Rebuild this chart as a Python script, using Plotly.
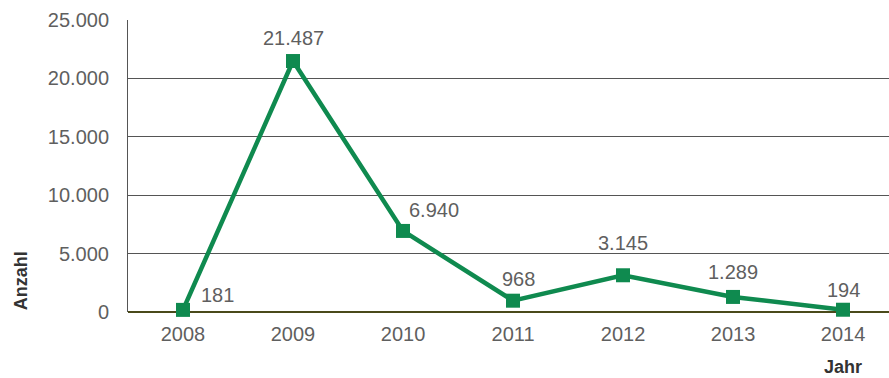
import plotly.graph_objects as go

years = ["2008", "2009", "2010", "2011", "2012", "2013", "2014"]
values = [181, 21487, 6940, 968, 3145, 1289, 194]
labels = ["181", "21.487", "6.940", "968", "3.145", "1.289", "194"]
label_dx = [34, 0, 31, 5, 0, 0, 0]
label_dy = [15, 23, 21, 22, 32, 25, 20]
y_ticks = [0, 5000, 10000, 15000, 20000, 25000]
y_ticklabels = ["0", "5.000", "10.000", "15.000", "20.000", "25.000"]

FONT = "Liberation Sans, Arial, sans-serif"
green = "#0f8a4f"
fig = go.Figure()
fig.add_trace(go.Scatter(
    x=list(range(len(years))), y=values, mode="lines+markers",
    line=dict(color=green, width=4.5),
    marker=dict(symbol="square", size=14, color=green),
    cliponaxis=False, hoverinfo="skip",
))
for i, (y, t, dx, dy) in enumerate(zip(values, labels, label_dx, label_dy)):
    fig.add_annotation(x=i, y=y, xref="x", yref="y", text=t, showarrow=False,
                       xshift=dx, yshift=dy, xanchor="center", yanchor="middle",
                       font=dict(family=FONT, size=20, color="#5f5f5f"))

fig.add_annotation(xref="paper", yref="paper", x=-0.141, y=0.0, text="<b>Anzahl</b>",
                   textangle=-90, showarrow=False, xanchor="center", yanchor="bottom",
                   font=dict(family=FONT, size=18, color="#333333"))
fig.add_annotation(xref="paper", yref="paper", x=0.94, y=-0.19, text="<b>Jahr</b>",
                   showarrow=False, xanchor="center", yanchor="middle",
                   font=dict(family=FONT, size=18, color="#333333"))

fig.update_layout(
    width=889, height=378,
    margin=dict(l=128, r=0, t=20, b=66),
    paper_bgcolor="white", plot_bgcolor="white",
    showlegend=False,
    font=dict(family=FONT, size=20, color="#5f5f5f"),
)
fig.update_xaxes(
    range=[-0.5, 6.418], showgrid=False, zeroline=False,
    tickvals=list(range(len(years))), ticktext=years,
    showline=False, ticks="", ticklabelstandoff=8,
    tickfont=dict(family=FONT, size=20, color="#5f5f5f"),
)
fig.update_yaxes(
    range=[0, 25000], tickvals=y_ticks, ticktext=y_ticklabels,
    showgrid=True, gridcolor="#555555", gridwidth=1,
    zeroline=True, zerolinecolor="#4a4a1a", zerolinewidth=2,
    showline=True, linecolor="#555555", linewidth=1,
    ticks="", ticklabelstandoff=14,
    tickfont=dict(family=FONT, size=20, color="#5f5f5f"),
)
fig.write_html("out.html")
